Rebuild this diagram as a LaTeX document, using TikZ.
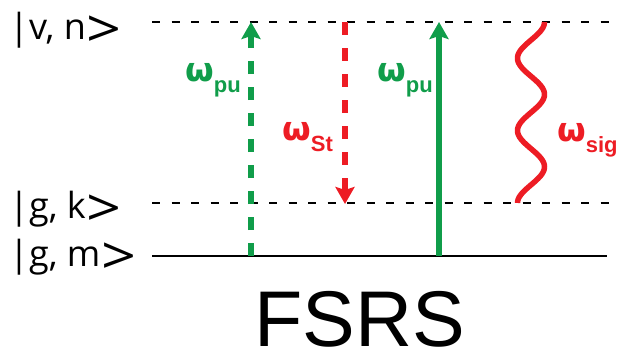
\documentclass[tikz,border=0pt]{standalone}
\usepackage{fontspec}
\setmainfont{Open Sans}
\newfontfamily\arialf{Liberation Sans}
\newfontfamily\dvsf{DejaVu Sans}
\usetikzlibrary{arrows.meta}
\definecolor{pgreen}{RGB}{16,157,74}
\definecolor{pred}{RGB}{237,28,36}
\newcommand{\gt}{\raisebox{-8pt}{\scalebox{1.7}[1.45]{>}}}
\newcommand{\om}[1]{{\dvsf\bfseries\fontsize{33}{33}\selectfont ω}{\arialf\bfseries\fontsize{22}{22}\selectfont\raisebox{-11pt}{#1}}}
\begin{document}
\begin{tikzpicture}[x=1pt,y=-1pt,
  level/.style={line width=2pt, dash pattern=on 8pt off 11.5pt},
  ground/.style={line width=2.5pt},
  statelbl/.style={inner sep=0pt, anchor=base west, text depth=0pt, font=\fontsize{36}{36}\selectfont},
  omg/.style={inner sep=0pt, anchor=base west},
  beam/.style={line width=6pt},
  dashbeam/.style={line width=6pt, dash pattern=on 13pt off 13pt},
  tipg/.style={-{Stealth[length=17pt,width=19pt,inset=3pt]}},
  title/.style={inner sep=0pt, anchor=base west, text depth=0pt, font=\arialf\fontsize{79}{79}\selectfont}
]
\useasboundingbox (0,0) rectangle (619,362);

% levels
\coordinate (vL) at (152,22);  \coordinate (vR) at (612,22);
\coordinate (kL) at (152,203); \coordinate (kR) at (612,203);
\coordinate (mL) at (152,256); \coordinate (mR) at (607,256);
\draw[level] (vL) -- (vR);
\draw[level] (kL) -- (kR);
\draw[ground] (mL) -- (mR);

% state labels
\node[statelbl] (vn) at (9,39) {|v, n\kern1pt\gt};
\node[statelbl] (gk) at (9,218) {|g, k\kern1pt\gt};
\node[statelbl] (gm) at (9,266) {|g, m\kern1pt\gt};

% pump dashed
\coordinate (p1b) at (251,256); \coordinate (p1t) at (251,22);
\draw[dashbeam, pgreen, tipg] (p1b) -- (p1t);
% Stokes
\coordinate (stt) at (345,22); \coordinate (stb) at (345,204);
\draw[dashbeam, pred, tipg] (stt) -- (stb);
% pump solid
\coordinate (p2b) at (439,256); \coordinate (p2t) at (439,22);
\draw[beam, pgreen, tipg] (p2b) -- (p2t);
% signal wave
\draw[pred, line width=5.5pt] plot[domain=0:5, samples=120, smooth] ({531+13.5*cos(180*\x)}, {22+36.2*\x});

% omega labels
\node[omg, text=pgreen] (wpu1) at (185,81) {\om{pu}};
\node[omg, text=pred] (wst) at (282,140) {\om{St}};
\node[omg, text=pgreen] (wpu2) at (377,81) {\om{pu}};
\node[omg, text=pred] (wsig) at (557,141) {\om{sig}};

\node[title] (fsrs) at (254,346) {FSRS};
\end{tikzpicture}
\end{document}
